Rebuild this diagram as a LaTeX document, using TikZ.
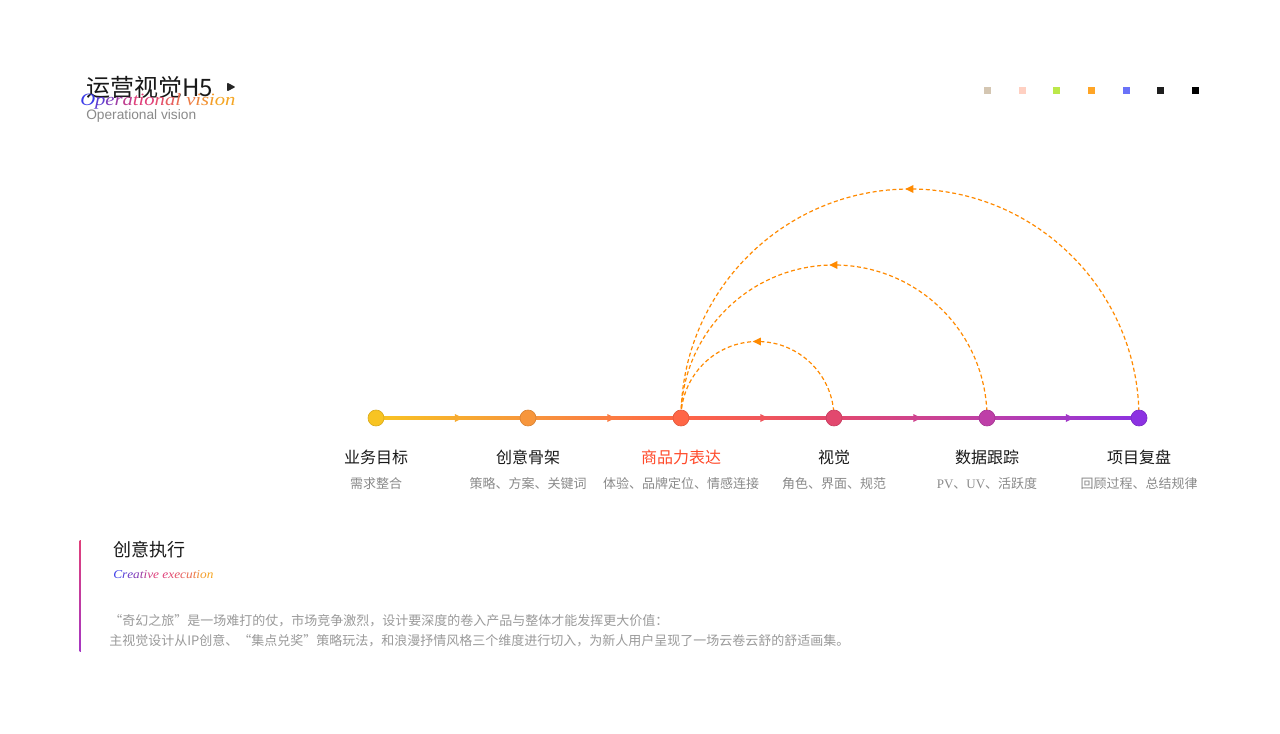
\documentclass[tikz,border=0pt]{standalone}
\usepackage{fontspec}
\setmainfont{Liberation Sans}
\newfontfamily\cjk{Noto Sans CJK SC}
\newfontfamily\serifl{Liberation Serif}
\usetikzlibrary{decorations.markings,backgrounds}
\definecolor{c1}{HTML}{F8C422}
\definecolor{c2}{HTML}{F7963C}
\definecolor{c3}{HTML}{FF6646}
\definecolor{c4}{HTML}{E2486E}
\definecolor{c5}{HTML}{BE3FA8}
\definecolor{c6}{HTML}{8C32E2}
\definecolor{arcc}{HTML}{FF8A00}
\definecolor{sA}{HTML}{3B3BE8}
\definecolor{sB}{HTML}{E0407A}
\definecolor{sC}{HTML}{F5A623}
\definecolor{subg}{HTML}{8A8A8A}
\definecolor{parg}{HTML}{9A9A9A}
\definecolor{hl}{HTML}{FF4A2A}
\definecolor{q1c}{HTML}{D4C6B2}
\definecolor{q2c}{HTML}{FFD0C2}
\definecolor{q3c}{HTML}{BCE84A}
\definecolor{q4c}{HTML}{FFA526}
\definecolor{q5c}{HTML}{6A72F8}
\definecolor{q6c}{HTML}{1E1E1E}
\tikzset{
  dot/.style={circle, minimum size=12pt, inner sep=0pt, line width=0.5pt},
  ttl/.style={font=\cjk\fontsize{12}{14}\selectfont, text=black!90, inner sep=0pt},
  sub/.style={font=\cjk\fontsize{9.75}{12}\selectfont, text=subg, inner sep=0pt},
  par/.style={font=\cjk\fontsize{9.75}{12}\selectfont, text=parg, inner sep=0pt, anchor=west},
  sq/.style={minimum size=5.25pt, inner sep=0pt},
  arcline/.style={draw=arcc, line width=0.9pt, dash pattern=on 3pt off 2pt,
    decoration={markings, mark=at position 0.5 with {\fill[arcc] (3.5pt,0) -- (-2.5pt,3pt) -- (-2.5pt,-3pt) -- cycle;}},
    postaction={decorate}},
  segarrow/.style={decoration={markings, mark=at position 0.55 with {\fill[#1] (3pt,0) -- (-3pt,3pt) -- (-3pt,-3pt) -- cycle;}}, decorate}
}
\begin{document}
\begin{tikzpicture}[x=0.75pt,y=-0.75pt]
\useasboundingbox (0,0) rectangle (1280,734);
\begin{scope}[on background layer]
\fill[white] (0,0) rectangle (1280,734);
\end{scope}

% timeline nodes
\node[dot, fill=c1, draw=c1!88!black] (n1) at (376,418) {};
\node[dot, fill=c2, draw=c2!88!black] (n2) at (528,418) {};
\node[dot, fill=c3, draw=c3!88!black] (n3) at (681,418) {};
\node[dot, fill=c4, draw=c4!88!black] (n4) at (834,418) {};
\node[dot, fill=c5, draw=c5!88!black] (n5) at (987,418) {};
\node[dot, fill=c6, draw=c6!88!black] (n6) at (1139,418) {};

\begin{scope}[on background layer]
\fill[left color=c1, right color=c2] ([yshift=1.1pt]n1.center) rectangle ([yshift=-1.1pt]n2.center);
\fill[left color=c2, right color=c3] ([yshift=1.1pt]n2.center) rectangle ([yshift=-1.1pt]n3.center);
\fill[left color=c3, right color=c4] ([yshift=1.1pt]n3.center) rectangle ([yshift=-1.1pt]n4.center);
\fill[left color=c4, right color=c5] ([yshift=1.1pt]n4.center) rectangle ([yshift=-1.1pt]n5.center);
\fill[left color=c5, right color=c6] ([yshift=1.1pt]n5.center) rectangle ([yshift=-1.1pt]n6.center);
\draw[arcline] (n4.center) arc[start angle=0, end angle=-180, radius=76.5];
\draw[arcline] (n5.center) arc[start angle=0, end angle=-180, radius=153];
\draw[arcline] (n6.center) arc[start angle=0, end angle=-180, radius=229];
\end{scope}
\path[segarrow=c1!45!c2] (n1) -- (n2);
\path[segarrow=c2!45!c3] (n2) -- (n3);
\path[segarrow=c3!45!c4] (n3) -- (n4);
\path[segarrow=c4!45!c5] (n4) -- (n5);
\path[segarrow=c5!45!c6] (n5) -- (n6);

% labels
\node[ttl] (t1) at (376,457) {业务目标};
\node[ttl] (t2) at (528,457) {创意骨架};
\node[ttl, text=hl] (t3) at (681,457) {商品力表达};
\node[ttl] (t4) at (834,457) {视觉};
\node[ttl] (t5) at (987,457) {数据跟踪};
\node[ttl] (t6) at (1139,457) {项目复盘};
\node[sub] (s1) at (376,484) {需求整合};
\node[sub] (s2) at (528,484) {策略、方案、关键词};
\node[sub] (s3) at (681,484) {体验、品牌定位、情感连接};
\node[sub] (s4) at (834,484) {角色、界面、规范};
\node[sub] (s5) at (987,484) {{\serifl PV}、{\serifl UV}、活跃度};
\node[sub] (s6) at (1139,484) {回顾过程、总结规律};

% header
\node[font=\cjk\fontsize{18}{21}\selectfont, text=black!90, inner sep=0pt, anchor=west] (title) at (86,87) {运营视觉H5};
\fill[black!85, rounded corners=0.8pt] (227,82.5) -- (235.5,87) -- (227,91.5) -- cycle;
\node[font=\serifl\itshape\fontsize{13}{15}\selectfont, inner sep=0pt, anchor=west] (script1) at (80,101) {\scalebox{1.19}[1]{%
\textcolor{sA}{O}\textcolor{sA!80!sB}{p}\textcolor{sA!60!sB}{e}\textcolor{sA!40!sB}{r}\textcolor{sA!20!sB}{a}\textcolor{sB}{t}\textcolor{sB}{i}\textcolor{sB}{o}\textcolor{sB!85!sC}{n}\textcolor{sB!70!sC}{a}\textcolor{sB!55!sC}{l} \textcolor{sB!40!sC}{v}\textcolor{sB!30!sC}{i}\textcolor{sB!20!sC}{s}\textcolor{sB!10!sC}{i}\textcolor{sC}{o}\textcolor{sC}{n}}};
\node[font=\fontsize{10.3}{12}\selectfont, text=subg, inner sep=0pt, anchor=west] (subtitle) at (86,116) {Operational vision};

% colour squares
\node[sq, fill=q1c] (q1) at (987,91) {};
\node[sq, fill=q2c] (q2) at (1022,91) {};
\node[sq, fill=q3c] (q3) at (1056,91) {};
\node[sq, fill=q4c] (q4) at (1091,91) {};
\node[sq, fill=q5c] (q5) at (1126,91) {};
\node[sq, fill=q6c] (q6) at (1160,91) {};
\node[sq, fill=black] (q7) at (1195,91) {};

% bottom section
\shade[top color=sB, bottom color=c6!70!sB] (79.6,540) rectangle (80.9,651);
\node[font=\cjk\fontsize{13.5}{16}\selectfont, text=black!90, inner sep=0pt, anchor=west] (sec) at (113,550) {创意执行};
\node[inner sep=0pt, anchor=west, font=\serifl\itshape\fontsize{9}{11}\selectfont] (script2) at (113,575) {\scalebox{1.11}[1]{%
\textcolor{sA}{C}\textcolor{sA!85!sB}{r}\textcolor{sA!70!sB}{e}\textcolor{sA!55!sB}{a}\textcolor{sA!40!sB}{t}\textcolor{sA!25!sB}{i}\textcolor{sA!10!sB}{v}\textcolor{sB}{e} \textcolor{sB}{e}\textcolor{sB!90!sC}{x}\textcolor{sB!80!sC}{e}\textcolor{sB!70!sC}{c}\textcolor{sB!55!sC}{u}\textcolor{sB!40!sC}{t}\textcolor{sB!25!sC}{i}\textcolor{sB!10!sC}{o}\textcolor{sC}{n}}};
\node[par] (p1) at (109,621) {“奇幻之旅”是一场难打的仗，市场竞争激烈，设计要深度的卷入产品与整体才能发挥更大价值：};
\node[par] (p2) at (109,641) {主视觉设计从IP创意、“集点兑奖”策略玩法，和浪漫抒情风格三个维度进行切入，为新人用户呈现了一场云卷云舒的舒适画集。};
\end{tikzpicture}
\end{document}
